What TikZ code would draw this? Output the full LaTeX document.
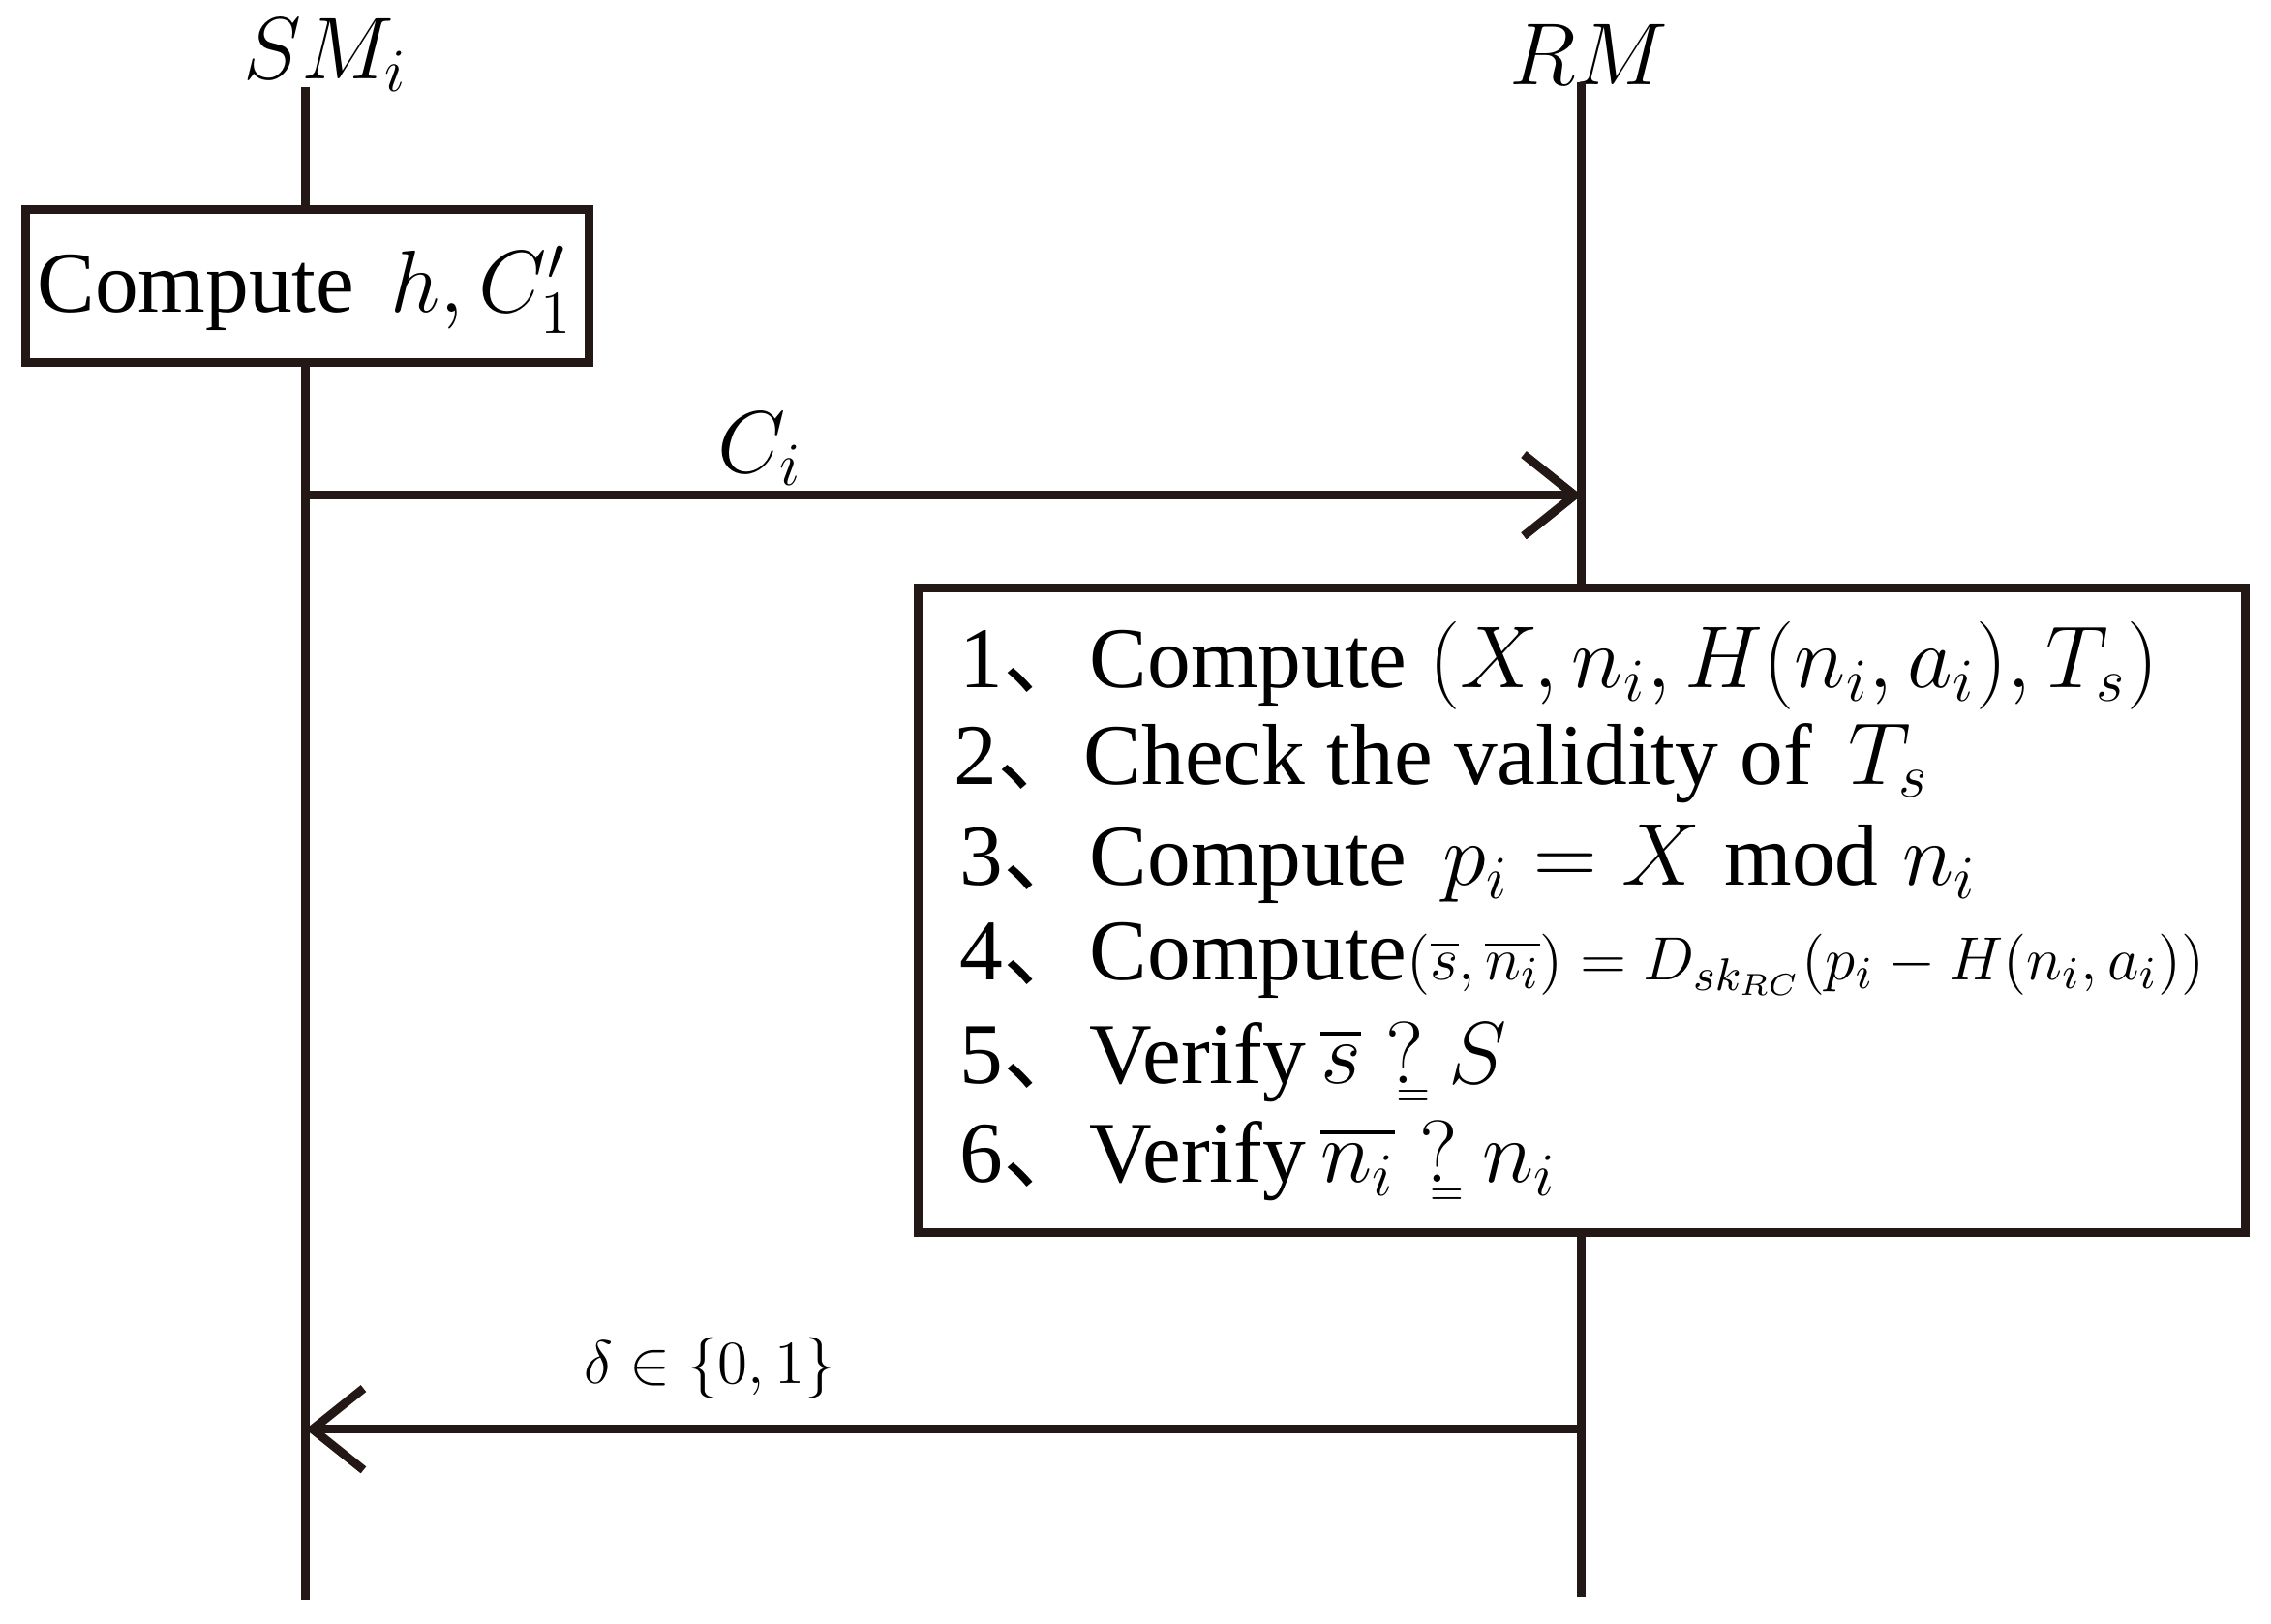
\documentclass[tikz,border=0pt]{standalone}
\usetikzlibrary{arrows.meta}
\usepackage{amsmath}
\usepackage{fontspec}
\setmainfont{Liberation Serif}
\newfontfamily\cjk{Noto Sans CJK SC}
\newcommand{\qeqmark}{\mathrel{\rlap{\raisebox{-0.55ex}{\hspace{0.12em}$\scriptscriptstyle=$}}?}}
\begin{document}
\begin{tikzpicture}[x=0.01cm,y=-0.01cm,
  ln/.style={line width=1.7pt,draw={rgb,255:red,35;green,24;blue,21}},
  bx/.style={ln,fill=white},
  txt/.style={font=\fontsize{17}{19}\selectfont,anchor=west,inner sep=0pt},
  arr/.style={ln,-{Straight Barb[length=10pt,width=16pt,line width=1.7pt]}}]
\useasboundingbox (0,0) rectangle (1568,1121);
\coordinate (st) at (211,60); \coordinate (sb) at (211,1105);
\coordinate (rt) at (1092,57); \coordinate (rb) at (1092,1103);
\node[font=\fontsize{17}{19}\selectfont] (sml) at (225,38) {$SM_i$};
\node[font=\fontsize{17}{19}\selectfont] (rml) at (1097,38) {$RM$};
\draw[ln] (st) -- (sb);
\draw[ln] (rt) -- (rb);
\draw[bx] (18,145) rectangle (407,250);
\node[txt] (c1) at (25,200) {Compute \,$h, C_1'$};
\coordinate (a1s) at (211,342); \coordinate (a1e) at (1092,342);
\draw[arr] (a1s) -- (a1e);
\node[font=\fontsize{17}{19}\selectfont] (ci) at (525,310) {$C_i$};
\draw[bx] (634,406) rectangle (1550,851);
\node[txt] (l1) at (662,460) {1{\cjk 、}Compute $(X, n_i, H(n_i,a_i), T_s)$};
\node[txt] (l2) at (658,527) {2{\cjk 、}Check the validity of \,$T_s$};
\node[txt] (l3) at (662,597) {3{\cjk 、}Compute \,$p_i = X \bmod n_i$};
\node[txt] (l4) at (662,663) {4{\cjk 、}Compute{\fontsize{13}{15}\selectfont$(\overline{s},\overline{n_i}) = D_{sk_{RC}}(p_i - H(n_i,a_i))$}};
\node[txt] (l5) at (662,735) {5{\cjk 、}Verify$\,\overline{s}\qeqmark S$};
\node[txt] (l6) at (662,803) {6{\cjk 、}Verify$\,\overline{n_i}\qeqmark n_i$};
\coordinate (a2s) at (1092,987); \coordinate (a2e) at (211,987);
\draw[arr] (a2s) -- (a2e);
\node[font=\fontsize{12}{14}\selectfont] (dl) at (490,945) {$\delta\in\{0,1\}$};
\end{tikzpicture}
\end{document}
